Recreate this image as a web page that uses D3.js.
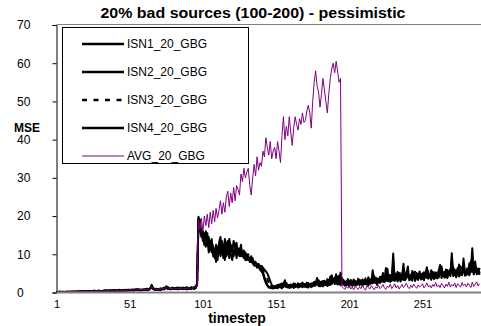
<!DOCTYPE html>
<html>
<head>
<meta charset="utf-8">
<script src="https://cdn.jsdelivr.net/npm/d3@7/dist/d3.min.js"></script>
<style>
  body { margin: 0; background: #fff; }
  text { font-family: Arial, "Liberation Sans", sans-serif; fill: #000; }
</style>
</head>
<body>
<div id="chart"></div>
<script>
// x labels (timestep) and y ticks
const xTicks = [1, 51, 101, 151, 201, 251];
const yTicks = [0, 10, 20, 30, 40, 50, 60, 70];
const seriesNames = ["ISN1_20_GBG", "ISN2_20_GBG", "ISN3_20_GBG", "ISN4_20_GBG", "AVG_20_GBG"];

// values per timestep 1..290
const isn1 = [
  0.1,0.1,0.1,0.2,0.1,0.1,0.2,0.1,0.2,0.2,
  0.2,0.1,0.2,0.2,0.3,0.2,0.2,0.3,0.2,0.3,
  0.3,0.2,0.3,0.3,0.4,0.3,0.3,0.4,0.3,0.4,
  0.4,0.3,0.5,0.4,0.4,0.5,0.4,0.6,0.5,0.4,
  0.5,0.6,0.5,0.4,0.6,0.5,0.7,0.5,0.6,0.5,
  0.6,0.7,0.5,0.6,0.8,0.6,0.7,0.5,0.7,0.6,
  0.8,0.7,0.6,0.9,1.1,1.8,1.0,0.8,0.7,0.9,
  0.8,0.6,0.9,1.2,1.0,1.6,0.9,1.1,0.8,1.0,
  1.2,0.9,1.0,0.8,1.3,1.1,0.9,1.0,1.2,0.8,
  1.1,0.9,1.0,1.3,0.9,1.2,2.1,19.5,17,16,
  13.5,15.5,14,15.5,12,13.5,10.5,11,9,12.5,
  8.5,13,14.5,10,12.5,11.5,9.5,12,13,10,
  8.5,11,10,12,11,9.5,11,10,9,10.5,
  8.5,9.5,8,9,7.5,8,7,7.5,6.5,7,
  6,5.5,4,3,2,1.5,1.2,1.8,1,1.5,
  1.2,2,1.4,1.8,1.1,2.2,3.2,1.6,1.3,2,
  1.5,1.8,1.2,2.3,1.6,1.9,1.4,2.1,2.6,1.8,
  1.5,2.2,1.3,1.9,2.4,1.6,2.8,2.2,3.8,2,
  1.6,2.5,1.8,3.1,2.2,3.5,1.9,4.2,2.5,3.6,
  2.2,4.8,2.6,3.2,1.9,3.8,2.4,1.8,3,2.2,
  1.6,2.8,2,3.4,1.8,2.5,3.1,1.9,2.7,2.1,
  3.2,2.2,2.8,1.8,3.5,2.4,5.8,2.6,3.1,2,
  3.6,2.5,4.2,2.8,3.3,6.4,3,4.5,2.8,3.9,
  10.2,3.4,5,3.1,4.4,2.9,4.1,7.5,3.5,4.8,
  6.8,3.2,4.6,3.8,5.2,3,4.4,3.6,5.5,3.4,
  4.2,3.6,5.1,6.6,3.8,4.9,3.3,5.4,4,4.6,
  3.7,5.6,7.2,4.1,5,3.9,6,4.4,5.2,4.3,
  10.3,4.8,5.9,4.2,6.4,4.7,5.5,4.5,8.9,5.1,
  4.6,6.2,4.9,5.7,11.6,5.2,8.1,4.8,6.3,5
];
const isn2 = [
  0.1,0.2,0.1,0.1,0.2,0.2,0.1,0.2,0.1,0.2,
  0.2,0.3,0.2,0.2,0.2,0.3,0.3,0.2,0.3,0.3,
  0.3,0.3,0.4,0.3,0.3,0.4,0.4,0.3,0.4,0.5,
  0.4,0.4,0.3,0.5,0.5,0.4,0.6,0.4,0.5,0.6,
  0.5,0.5,0.6,0.7,0.5,0.6,0.5,0.7,0.6,0.7,
  0.7,0.6,0.8,0.6,0.7,0.9,0.6,0.8,0.7,0.8,
  0.7,0.9,0.8,0.7,1.0,1.4,1.2,0.9,0.8,0.7,
  0.9,1.1,0.8,1.0,1.3,1.2,1.5,0.9,1.1,1.3,
  1.0,1.2,0.9,1.3,1.1,0.9,1.3,1.2,1.0,1.4,
  1.2,1.0,1.4,1.1,1.3,1.6,1.8,18.5,19,15,
  16,13,12,14,10.5,12.5,14,9.5,11,8,
  10,12,9.5,13.5,11,8.5,12.5,10,14,12,
  10.5,13.5,12,9,11.5,10,12.5,9.5,10.5,9,
  10,8.5,9,8,8.5,7.5,8,7,7.5,6.5,
  7,6.5,6,5.5,5,4,3,2,1.5,1.2,
  1.8,1.3,2.1,1.5,2.4,1.4,1.9,2.5,1.6,1.2,
  2.1,1.6,2.4,1.5,2,1.3,2.2,1.7,1.4,2.3,
  1.8,2.6,1.6,2.1,1.4,2.3,1.8,2.7,2.1,3.2,
  2.4,1.8,3,2.1,2.8,1.7,3.3,2,4.5,2.6,
  3.4,2.3,4.1,2.7,5.2,2.2,3.3,2.6,1.9,3.5,
  2.5,3.3,1.7,2.6,3,2.2,3.6,2.5,3.2,1.8,
  2.6,3.7,2.1,4,2.9,3.3,2.4,4.3,2.7,3.6,
  2.9,4.1,3.2,5.1,3.6,3.1,6.2,3.4,4.6,3.3,
  5.3,4.2,3.6,5.4,3.9,4.5,3.4,5.2,4.3,3.7,
  4.9,4.1,3.5,5.6,4.2,3.7,5.1,4.4,3.9,4.7,
  3.6,5.3,4.3,3.8,4.8,4.1,5.8,3.9,4.5,5.1,
  4.4,3.9,5.2,6.8,4.5,5.4,4,5.9,4.7,6.1,
  5.2,6.6,4.6,5.8,4.9,7.3,5.3,4.8,6.1,5.5,
  5.8,4.9,7.6,5.4,6.2,5.1,6.9,5.6,4.9,6.4
];
const isn3 = [
  0.2,0.1,0.2,0.1,0.1,0.2,0.2,0.1,0.2,0.1,
  0.2,0.2,0.3,0.2,0.3,0.2,0.3,0.3,0.2,0.3,
  0.4,0.3,0.3,0.4,0.3,0.4,0.5,0.3,0.4,0.4,
  0.5,0.4,0.4,0.5,0.6,0.4,0.5,0.5,0.6,0.5,
  0.6,0.5,0.7,0.5,0.6,0.7,0.6,0.5,0.7,0.6,
  0.8,0.6,0.7,0.8,0.6,0.7,0.8,0.7,0.9,0.7,
  0.9,0.8,1.0,0.8,0.9,1.6,1.1,0.8,1.0,0.8,
  1.0,0.8,1.1,0.9,1.1,1.4,1.0,1.2,1.0,0.9,
  1.1,1.0,1.2,1.0,1.1,1.3,1.0,1.1,1.3,1.0,
  1.3,1.1,1.2,1.0,1.4,1.1,1.9,19,17.5,15.5,
  14.5,14,15,13,13.5,11.5,12,10,11.5,10.5,
  12,11,13.5,12,10.5,13,10.5,11.5,12.5,11,
  9.5,12,11,10.5,12,10.5,10,11,9.5,10,
  9,10,8.5,9.5,8,8.5,7.5,7,7,6.5,
  6.5,6,5,4.5,3.5,2.5,1.8,1.4,1.2,1.6,
  1.4,1.7,2.2,1.3,1.9,1.6,2.4,1.5,2,1.4,
  1.7,2.2,1.5,1.8,2.5,1.4,1.9,2.3,1.6,2,
  2.3,1.7,2.1,2.6,1.8,2.4,2,1.6,2.9,2.3,
  2.8,2.1,2.5,1.9,3.4,2.6,2.2,3.1,2.4,2.9,
  3.9,2.8,3.1,2.2,3.6,2.5,2.1,3.2,2.4,2.8,
  2.1,2.5,3.2,2,2.4,3.5,2.3,2.9,2.2,3.4,
  2.4,2.9,3.5,2.6,2.2,3.8,3,2.5,4.1,2.8,
  3.3,2.7,3.8,3.1,4.4,3.6,2.9,4,3.5,4.7,
  3.2,3.9,4.4,3.5,6.1,3.8,4.6,3.3,4.1,5.4,
  3.9,4.5,3.4,4.3,3.6,5.7,3.9,4.6,3.5,4.4,
  5,3.8,4.1,4.7,5.6,3.9,4.4,4.9,3.7,6.3,
  4.8,4.2,4.9,3.8,5.5,4.4,5.1,6.4,4.6,5,
  4.5,5.3,6.5,4.9,5.2,4.6,6.8,5.1,5.6,4.7,
  6.6,5.3,5.7,8.2,4.8,6.1,5.4,6.5,5.8,5.2
];
const isn4 = [
  0.1,0.1,0.2,0.2,0.1,0.1,0.1,0.2,0.2,0.1,
  0.1,0.2,0.2,0.3,0.2,0.2,0.2,0.3,0.3,0.2,
  0.2,0.3,0.3,0.2,0.4,0.3,0.3,0.3,0.4,0.3,
  0.3,0.4,0.4,0.3,0.5,0.4,0.4,0.5,0.4,0.5,
  0.4,0.5,0.5,0.6,0.5,0.4,0.6,0.6,0.5,0.6,
  0.5,0.7,0.6,0.5,0.7,0.6,0.8,0.6,0.6,0.7,
  0.6,0.7,0.9,0.8,0.9,2.0,0.9,0.7,0.9,0.8,
  0.7,0.9,1.0,0.8,0.9,1.5,1.2,1.0,0.9,1.2,
  0.9,1.1,1.3,0.9,1.0,1.2,1.1,0.9,1.1,1.2,
  1.0,1.2,0.9,1.2,1.1,1.4,2.3,19.8,16.5,14.5,
  15,12.5,16,12.5,14.5,11,13,12,10,11.5,
  9.5,11.5,12.5,11,9,14,11.5,13.5,9,12.5,
  11,9.5,12.5,13,10,11.5,9.5,10.5,11,8.5,
  9.5,9,8.5,8,9,7,7.5,6.5,7,6,
  5.5,5,3.5,2.5,1.8,1.3,1.5,1.1,1.7,1.3,
  1.6,1.1,1.8,2.2,1.5,1.8,2.7,1.4,1.8,1.5,
  1.3,2,1.8,1.4,1.7,2.4,1.6,1.9,2.2,1.5,
  2,1.4,2.5,1.7,2.2,1.9,2.5,1.8,3.3,1.7,
  2.1,2.9,1.6,2.6,2,3,2.4,3.7,2.2,3.2,
  2.7,3.6,2.1,4.4,2.5,3,2.8,2.2,2.6,2,
  2.9,2.2,2.6,3.1,2.5,1.9,2.7,3.3,2.4,2.6,
  2.1,3,2.5,3.3,2.4,2.9,4.4,3.1,2.5,3.3,
  2.6,3.5,2.9,3.6,2.7,4.6,3.4,2.9,3.7,3.1,
  7.8,3,4.2,2.9,3.8,3.3,4.4,6.2,3.2,4.1,
  5.2,3.6,4.1,3.1,4.6,3.5,4,3.3,4.9,3.6,
  4.4,3.2,4.7,5.2,3.6,4.3,3.8,4.6,3.5,4.2,
  3.9,4.9,5.9,4.5,4.3,5.1,4.6,3.8,5.3,4.5,
  8.6,4.3,5.1,4,5.8,4.2,4.9,5.4,7.4,4.4,
  5.1,5.6,4.5,6.2,9.4,4.7,6.5,5.3,5.8,4.6
];
const avg = [
  0.1,0.1,0.2,0.1,0.1,0.2,0.1,0.1,0.2,0.2,
  0.2,0.2,0.2,0.2,0.3,0.2,0.3,0.2,0.3,0.2,
  0.3,0.3,0.3,0.3,0.3,0.4,0.3,0.3,0.4,0.4,
  0.4,0.4,0.4,0.4,0.5,0.4,0.5,0.5,0.5,0.5,
  0.5,0.5,0.6,0.5,0.6,0.6,0.6,0.6,0.6,0.6,
  0.7,0.7,0.7,0.6,0.7,0.7,0.7,0.7,0.7,0.7,
  0.8,0.8,0.8,0.8,1.0,1.6,1.1,0.8,0.9,0.8,
  0.9,0.9,1.0,1.0,1.1,1.4,1.2,1.1,1.0,1.1,
  1.1,1.1,1.1,1.0,1.1,1.1,1.1,1.1,1.1,1.1,
  1.2,1.1,1.1,1.2,1.2,1.3,2.0,19,16.5,19.5,
  16,20,17.5,20.5,17,21,18,21.5,18.5,22,
  19.5,21.5,24,20.5,23.5,21,25,26.5,22.5,26,
  23.5,27.5,24,28,27,25.5,31,29,32.5,30,
  31.5,32.5,28,25.5,30,33.5,30.5,35.5,32,34,
  33,37,35.5,40.5,38,36,39.5,35,37,38,
  35,39.5,37,34,41,46,40,43.5,41,46,
  42,38.5,43,46,44,42.5,45.5,44,47,44.5,
  45,47.5,49,47,43,50,55,58,54,52.5,
  48.5,52,56,53,50,47,52,56,58.5,60,
  57.5,60.5,58,55,56,1.5,1.2,0.8,1.6,1.1,
  1.8,0.9,1.4,0.7,1.6,1.2,0.8,1.5,1,1.9,
  1.1,0.6,1.7,1.3,0.9,1.8,1.2,0.7,1.5,1.1,
  1.9,1,1.4,2.1,1.2,0.8,1.7,1.3,2.2,1,
  1.6,2.3,1.2,1.8,0.9,1.5,2.1,1.3,1.8,2.4,
  1.4,1,1.9,1.3,2.2,1.6,1.1,2,1.4,1.8,
  2.3,1.2,1.7,2.5,1.4,1.9,1.2,2.1,1.6,2.6,
  1.5,2,1.3,2.4,1.8,1.2,2.2,1.6,2.7,1.4,
  2.1,1.7,2.5,1.3,2.3,1.9,1.4,2.6,1.8,2.2,
  1.5,2.4,1.9,1.3,2.7,1.6,2.2,2.8,1.7,2.3
];

const width = 481, height = 326;
const margin = { top: 25, right: 1.4, bottom: 33.5, left: 56.5 };

const series = [
  { name: seriesNames[0], values: isn1, color: "#000", w: 2, dash: null },
  { name: seriesNames[1], values: isn2, color: "#000", w: 2, dash: null },
  { name: seriesNames[2], values: isn3, color: "#000", w: 2, dash: "5,6.5" },
  { name: seriesNames[3], values: isn4, color: "#000", w: 2, dash: null },
  { name: seriesNames[4], values: avg, color: "#800080", w: 1, dash: null }
];

const x = d3.scaleLinear()
  .domain([1, isn1.length])
  .range([margin.left, width - margin.right]);

const y = d3.scaleLinear()
  .domain([0, 70])
  .range([height - margin.bottom, margin.top]);

const svg = d3.select("#chart")
  .append("svg")
  .attr("width", width)
  .attr("height", height);

svg.append("rect").attr("width", width).attr("height", height).attr("fill", "#fff");

// plot border (top)
svg.append("line")
  .attr("x1", margin.left).attr("x2", width)
  .attr("y1", margin.top - 0.5).attr("y2", margin.top - 0.5)
  .attr("stroke", "#808080");

// lines
const line = d3.line()
  .x((d, i) => x(i + 1))
  .y(d => y(d));

svg.append("g")
  .selectAll("path")
  .data(series)
  .enter()
  .append("path")
  .attr("d", d => line(d.values))
  .attr("fill", "none")
  .attr("stroke", d => d.color)
  .attr("stroke-width", d => d.w)
  .attr("stroke-dasharray", d => d.dash)
  .attr("stroke-linejoin", "round");

// y axis
const yAxis = svg.append("g")
  .attr("transform", `translate(${margin.left},0)`)
  .call(d3.axisLeft(y).tickValues(yTicks).tickSize(4).tickPadding(0));
yAxis.select(".domain").attr("stroke", "#000");
yAxis.selectAll(".tick line").attr("stroke", "#000");
yAxis.selectAll("text")
  .attr("text-anchor", "start")
  .attr("x", 17 - margin.left)
  .style("font-size", "12px")
  .style("font-family", "Arial, 'Liberation Sans', sans-serif");

// x axis
const xAxis = svg.append("g")
  .attr("transform", `translate(0,${y(0)})`)
  .call(d3.axisBottom(x).tickValues(xTicks).tickSize(0).tickPadding(8));
xAxis.select(".domain").attr("stroke", "#808080").attr("stroke-width", 2)
  .attr("d", `M${margin.left},0H${width}`);
xAxis.selectAll("text")
  .style("font-size", "11px")
  .style("font-family", "Arial, 'Liberation Sans', sans-serif");

// titles
svg.append("text")
  .attr("x", 253).attr("y", 18)
  .attr("text-anchor", "middle")
  .attr("textLength", 305).attr("lengthAdjust", "spacingAndGlyphs")
  .style("font-size", "15px").style("font-weight", "bold")
  .text("20% bad sources (100-200) - pessimistic");

svg.append("text")
  .attr("x", 14).attr("y", 131.5)
  .style("font-size", "12px").style("font-weight", "bold")
  .text("MSE");

svg.append("text")
  .attr("x", 237).attr("y", 323)
  .attr("text-anchor", "middle")
  .style("font-size", "14px").style("font-weight", "bold")
  .text("timestep");

// legend
const legend = svg.append("g");
legend.append("rect")
  .attr("x", 62.5).attr("y", 27.5)
  .attr("width", 186).attr("height", 136)
  .attr("fill", "#fff").attr("stroke", "#000");

const row = legend.selectAll("g.item")
  .data(series)
  .enter()
  .append("g")
  .attr("class", "item")
  .attr("transform", (d, i) => `translate(0,${44 + i * 28})`);

row.append("line")
  .attr("x1", 82).attr("x2", 124)
  .attr("stroke", d => d.color)
  .attr("stroke-width", d => d.w === 1 ? 1 : 2.5)
  .attr("stroke-dasharray", d => d.dash);

row.append("text")
  .attr("x", 127).attr("dy", "0.35em")
  .style("font-size", "12px")
  .text(d => d.name);
</script>
</body>
</html>
